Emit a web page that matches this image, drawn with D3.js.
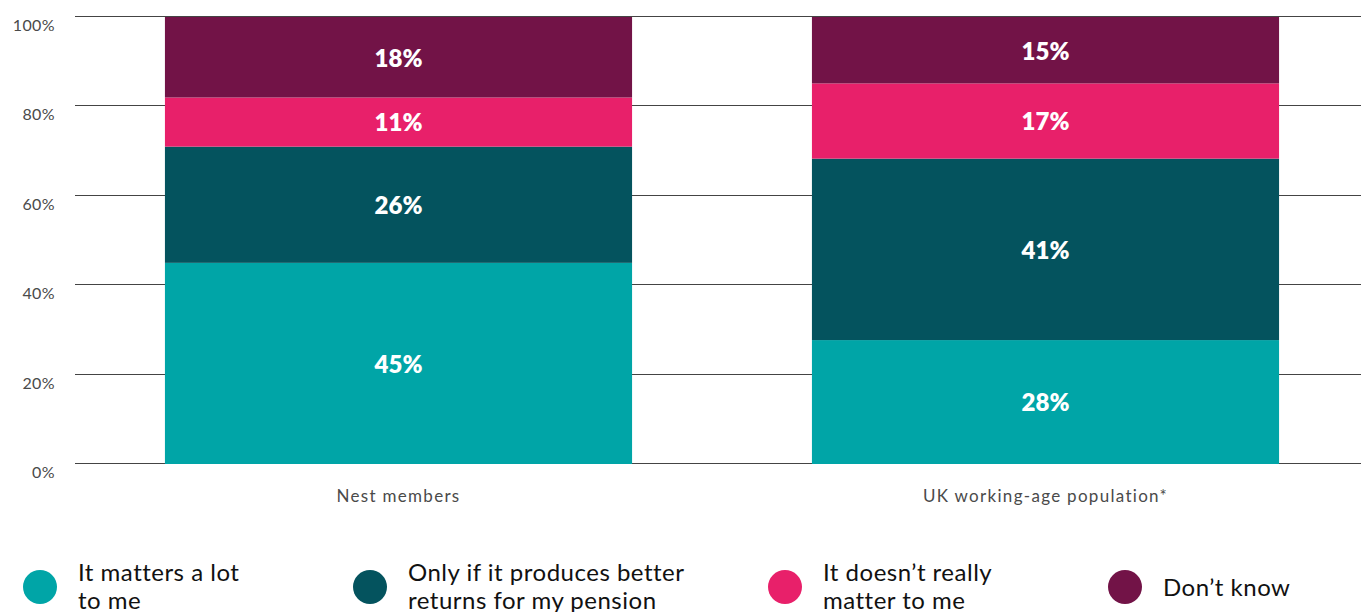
<!DOCTYPE html>
<meta charset="utf-8">
<head>
  <title>Stacked bars</title>
</head>
<style>
  body { margin: 0; background: #fff; }
  text { font-family: Lato, "Noto Sans", sans-serif; }
  .tick-label { fill: #4a4a4a; font-size: 16px; letter-spacing: 0.4px; }
  .cat-label { fill: #4a4a4a; font-size: 17px; letter-spacing: 1.3px; }
  .val-label { fill: #fff; font-size: 24px; font-weight: 800; }
  .leg-label { fill: #111; font-size: 24px; letter-spacing: 0.5px; }
</style>
<body>
  <svg width="1361" height="612"></svg>
  <script src="https://cdn.jsdelivr.net/npm/d3@7"></script>
  <script>

var categories = ["Nest members", "UK working-age population*"];
var keys = ["lot", "better", "notreally", "dontknow"];
var lot = [45, 28];
var better = [26, 41];
var notreally = [11, 17];
var dontknow = [18, 15];
var colors = ["#00a5a7", "#04535e", "#e8206a", "#721347"];
var legendLabels = [
  ["It matters a lot", "to me"],
  ["Only if it produces better", "returns for my pension"],
  ["It doesn\u2019t really", "matter to me"],
  ["Don\u2019t know"]
];
var yTicks = [0, 0.2, 0.4, 0.6, 0.8, 1];

var rows = categories.map(function(c, i) {
  return { cat: c, lot: lot[i], better: better[i], notreally: notreally[i], dontknow: dontknow[i] };
});

var svg = d3.select("svg");

var x = d3.scaleBand().domain(categories).range([75, 1369])
  .paddingInner(0.278).paddingOuter(0.139);
var y = d3.scaleLinear().domain([0, 1]).range([464, 17]);

// gridlines
svg.append("g").selectAll("line")
  .data(yTicks)
  .enter().append("line")
  .attr("x1", 75).attr("x2", 1361)
  .attr("y1", function(d) { return Math.round(y(d)) - 0.5; })
  .attr("y2", function(d) { return Math.round(y(d)) - 0.5; })
  .attr("stroke", "#444").attr("stroke-width", 1.2);

svg.append("g").selectAll("text")
  .data(yTicks)
  .enter().append("text")
  .attr("class", "tick-label")
  .attr("x", 55)
  .attr("y", function(d) { return y(d) + 14; })
  .attr("text-anchor", "end")
  .text(function(d) { return Math.round(d * 100) + "%"; });

var stack = d3.stack().keys(keys).offset(d3.stackOffsetExpand);
var series = stack(rows);

var groups = svg.append("g").selectAll("g")
  .data(series)
  .enter().append("g")
  .attr("fill", function(d, i) { return colors[i]; });

groups.selectAll("rect")
  .data(function(d) { return d; })
  .enter().append("rect")
  .attr("x", function(d) { return x(d.data.cat); })
  .attr("width", x.bandwidth())
  .attr("y", function(d) { return y(d[1]); })
  .attr("height", function(d) { return y(d[0]) - y(d[1]); });

groups.each(function(s) {
  d3.select(this).selectAll("text")
    .data(s)
    .enter().append("text")
    .attr("class", "val-label")
    .attr("x", function(d) { return x(d.data.cat) + x.bandwidth() / 2; })
    .attr("y", function(d) { return (y(d[0]) + y(d[1])) / 2 + 1; })
    .attr("dy", "0.35em")
    .attr("text-anchor", "middle")
    .text(function(d) { return d.data[s.key] + "%"; });
});

svg.append("g").selectAll("text")
  .data(categories)
  .enter().append("text")
  .attr("class", "cat-label")
  .attr("x", function(d) { return x(d) + x.bandwidth() / 2; })
  .attr("y", 502)
  .attr("text-anchor", "middle")
  .text(function(d) { return d; });

// legend
var legX = [40, 370, 785, 1125];
var leg = svg.append("g").selectAll("g")
  .data(legendLabels)
  .enter().append("g")
  .attr("transform", function(d, i) { return "translate(" + legX[i] + ",587)"; });

leg.append("circle")
  .attr("r", 17)
  .attr("fill", function(d, i) { return colors[i]; });

leg.append("text")
  .attr("class", "leg-label")
  .attr("x", 38)
  .each(function(lines) {
    var t = d3.select(this);
    var y0 = lines.length === 1 ? 9 : -6;
    lines.forEach(function(l, j) {
      t.append("tspan").attr("x", 38).attr("y", y0 + j * 28).text(l);
    });
  });

  </script>
</body>
</html>
